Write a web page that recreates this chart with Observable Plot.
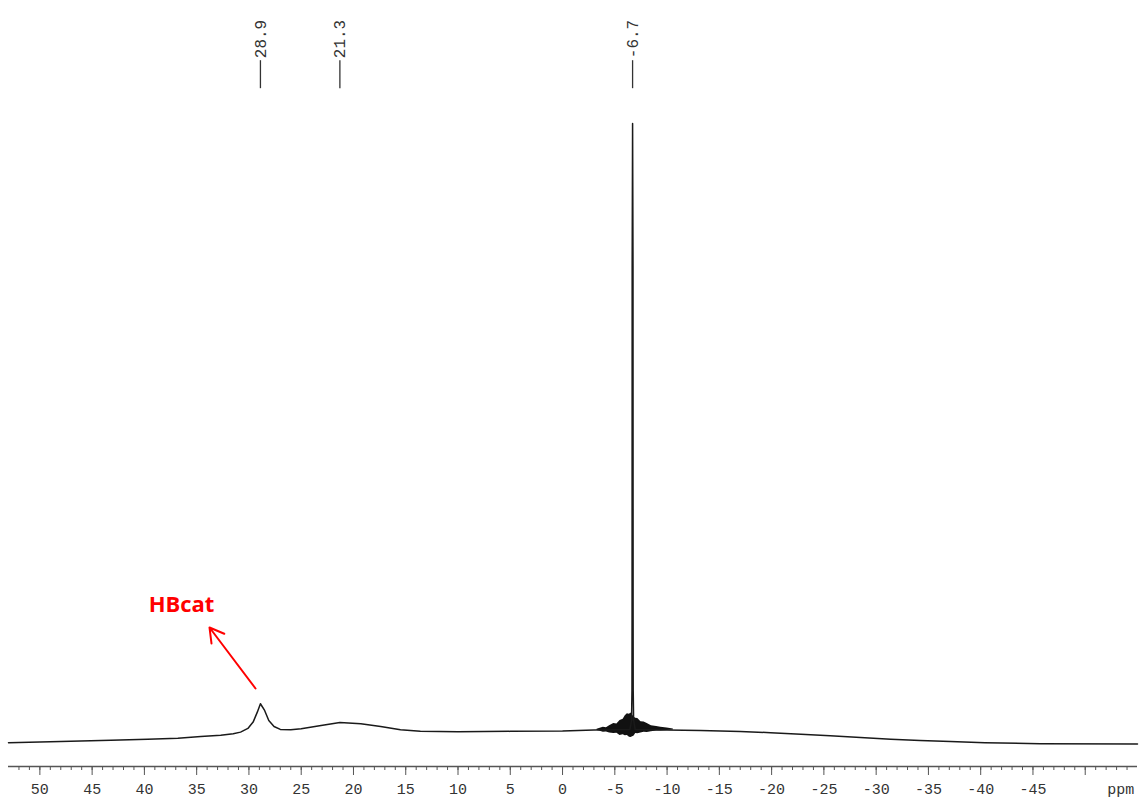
<!DOCTYPE html>
<html>
<head>
<meta charset="utf-8">
<script src="https://cdn.jsdelivr.net/npm/d3@7"></script>
<script src="https://cdn.jsdelivr.net/npm/@observablehq/plot@0.6"></script>
<style>
  html, body { margin: 0; padding: 0; background: #fff; }
  #chart svg { display: block; }
</style>
</head>
<body>
<div id="chart"></div>
<script>
// 11B NMR spectrum: chemical shift (ppm) against intensity (arbitrary units)
const shiftPpm = [
  53.0, 48.0, 43.2, 39.7, 36.8, 34.6, 32.7, 31.5, 30.8, 30.1, 29.6, 29.2,
  28.9, 28.5, 28.1, 27.6, 27.0, 26.0, 25.0, 23.1, 21.3, 19.3, 17.4, 15.5,
  13.6, 10.0, 5.0, 0.0, -3.0, -5.0, -6.45, -6.6, -6.64, -6.65, -6.66, -6.7,
  -6.74, -6.75, -6.76, -6.8, -6.95, -8.0, -10.0, -13.2, -17.0, -19.9, -22.8,
  -25.6, -28.5, -31.4, -34.2, -37.1, -40.4, -45.7, -55.0
];
const intensity = [
  0.42, 0.63, 0.84, 1.0, 1.16, 1.43, 1.64, 1.87, 2.13, 2.72, 3.74, 5.34,
  6.69, 5.61, 4.0, 3.04, 2.56, 2.5, 2.67, 3.2, 3.69, 3.48, 3.04, 2.5,
  2.28, 2.2, 2.25, 2.3, 2.45, 2.5, 2.55, 4.0, 8.8, 20.9, 77.2, 100,
  77.2, 20.9, 8.8, 4.0, 2.55, 2.5, 2.45, 2.4, 2.24, 2.03, 1.8,
  1.55, 1.27, 1.0, 0.79, 0.63, 0.42, 0.26, 0.2
];

// Noise band around the foot of the sharp signal (upper / lower envelope)
const noisePpm = [
  -3.3, -3.6, -3.9, -4.2, -4.5, -4.9, -5.2, -5.5, -5.8, -6.0, -6.2, -6.4,
  -6.55, -6.85, -7.0, -7.2, -7.5, -7.8, -8.1, -8.5, -9.0, -9.4, -10.0, -10.6
];
const noiseUpper = [
  2.6, 2.75, 2.9, 2.85, 3.15, 3.5, 3.45, 4.0, 4.2, 4.75, 5.1, 5.0,
  5.2, 4.5, 4.35, 4.3, 3.8, 3.75, 3.5, 3.15, 3.05, 2.9, 2.8, 2.65
];
const noiseLower = [
  2.4, 2.25, 2.1, 2.15, 2.0, 1.9, 1.95, 1.6, 1.7, 1.55, 1.6, 1.3,
  1.27, 1.5, 1.9, 1.85, 2.0, 2.1, 2.05, 2.2, 2.3, 2.3, 2.4, 2.45
];

// Peak-pick labels
const peakShifts = [28.9, 21.3, -6.7];

// Axis ticks
const majorTicks = [50, 45, 40, 35, 30, 25, 20, 15, 10, 5, 0, -5, -10, -15, -20, -25, -30, -35, -40, -45, -50];
const tickLabels = ["50", "45", "40", "35", "30", "25", "20", "15", "10", "5", "0", "-5", "-10", "-15", "-20", "-25", "-30", "-35", "-40", "-45", ""];
const minorTicks = d3.range(52, -55, -1);
const unitLabel = "ppm";

// Annotation for the HBcat signal
const hbcatLabel = "HBcat";
const hbcatText = {x: 36.45, y: 22.65};
const hbcatArrow = {x1: 29.37, y1: 9.14, x2: 33.77, y2: 18.95};

const spectrum = shiftPpm.map((p, i) => ({ppm: p, value: intensity[i]}));
const noise = noisePpm.map((p, i) => ({ppm: p, hi: noiseUpper[i], lo: noiseLower[i]}));
const labelFor = new Map(majorTicks.map((t, i) => [t, tickLabels[i]]));

const mono = "'Liberation Mono', 'DejaVu Sans Mono', monospace";
const axisBase = -3.4;

const chart = Plot.plot({
  width: 1141,
  height: 801,
  marginLeft: 8,
  marginRight: 4,
  marginTop: 0,
  marginBottom: 35,
  style: {background: "#fff", color: "#333", fontFamily: mono},
  x: {domain: [53, -55]},
  y: {domain: [axisBase, 100], range: [766, 123], axis: null},
  marks: [
    // baseline of the axis
    Plot.ruleY([axisBase], {stroke: "#555", strokeWidth: 1.6}),
    // minor ticks every 1 ppm
    Plot.axisX(minorTicks, {tickSize: 4, tickFormat: () => "", stroke: "#555"}),
    // major ticks every 5 ppm with labels
    Plot.axisX(majorTicks, {
      tickSize: 9,
      tickPadding: 8,
      tickFormat: (d) => labelFor.get(d),
      fontSize: 15,
      fontFamily: mono,
      fill: "#333",
      stroke: "#555"
    }),
    Plot.text([unitLabel], {
      x: -53.4, y: axisBase, dy: 23, text: (d) => d,
      fontSize: 15, fontFamily: mono, fill: "#333"
    }),
    // noise at the foot of the sharp resonance
    Plot.areaY(noise, {x: "ppm", y1: "lo", y2: "hi", fill: "#111", curve: "linear"}),
    // spectrum trace
    Plot.line(spectrum, {x: "ppm", y: "value", stroke: "#1a1a1a", strokeWidth: 1.5, curve: "linear"}),
    // peak-pick markers and values
    Plot.ruleX(peakShifts, {y1: 105.6, y2: 110.1, stroke: "#333", strokeWidth: 1.3}),
    Plot.text(peakShifts, {
      x: (d) => d, y: 110.5, text: (d) => d.toFixed(1),
      rotate: -90, textAnchor: "start",
      fontSize: 16, fontFamily: mono, fill: "#333"
    }),
    // HBcat annotation
    Plot.arrow([hbcatArrow], {
      x1: "x1", y1: "y1", x2: "x2", y2: "y2",
      stroke: "#ff0000", strokeWidth: 2, headLength: 12, bend: 0
    }),
    Plot.text([hbcatText], {
      x: "x", y: "y", text: () => hbcatLabel,
      fill: "#ff0000", fontSize: 22, fontWeight: "bold",
      fontFamily: "'Open Sans', 'Liberation Sans', sans-serif"
    })
  ]
});

document.getElementById("chart").appendChild(chart);
</script>
</body>
</html>
